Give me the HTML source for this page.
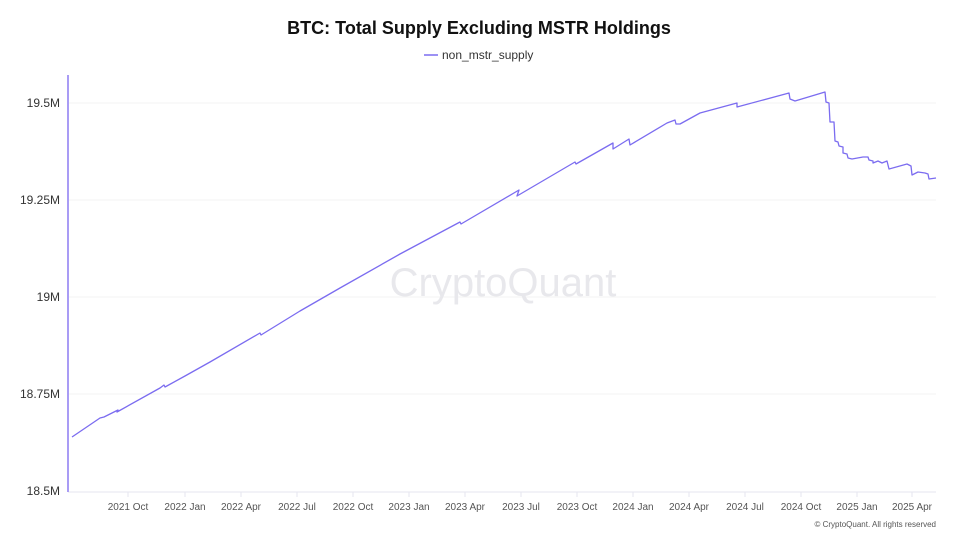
<!DOCTYPE html>
<html><head><style>
body{margin:0;background:#fff;}
svg{display:block;font-family:"Liberation Sans",sans-serif;}
</style></head><body>
<svg width="959" height="536" viewBox="0 0 959 536">
<text x="479" y="34" text-anchor="middle" font-size="18" font-weight="bold" fill="#111">BTC: Total Supply Excluding MSTR Holdings</text>
<line x1="424" y1="55" x2="438" y2="55" stroke="#7b6cf0" stroke-width="1.5"/>
<text x="442" y="59" font-size="12" fill="#333">non_mstr_supply</text>
<g stroke="#f3f3f3" stroke-width="1">
<line x1="68" y1="103" x2="936" y2="103"/><line x1="68" y1="200" x2="936" y2="200"/>
<line x1="68" y1="297" x2="936" y2="297"/><line x1="68" y1="394" x2="936" y2="394"/>
</g>
<line x1="68" y1="492" x2="936" y2="492" stroke="#e6e6ef"/>
<line x1="68" y1="75" x2="68" y2="492" stroke="#a99cf5" stroke-width="2"/>
<g font-size="12" fill="#333" text-anchor="end">
<text x="60" y="107">19.5M</text><text x="60" y="204">19.25M</text><text x="60" y="301">19M</text><text x="60" y="398">18.75M</text><text x="60" y="495">18.5M</text>
</g>
<g font-size="10" fill="#555" text-anchor="middle">
<text x="128" y="510">2021 Oct</text><text x="185" y="510">2022 Jan</text><text x="241" y="510">2022 Apr</text><text x="297" y="510">2022 Jul</text><text x="353" y="510">2022 Oct</text><text x="409" y="510">2023 Jan</text><text x="465" y="510">2023 Apr</text><text x="521" y="510">2023 Jul</text><text x="577" y="510">2023 Oct</text><text x="633" y="510">2024 Jan</text><text x="689" y="510">2024 Apr</text><text x="745" y="510">2024 Jul</text><text x="801" y="510">2024 Oct</text><text x="857" y="510">2025 Jan</text><text x="912" y="510">2025 Apr</text>
</g>
<g stroke="#e6e6ef"><line x1="128" y1="492" x2="128" y2="497"/><line x1="185" y1="492" x2="185" y2="497"/><line x1="241" y1="492" x2="241" y2="497"/><line x1="297" y1="492" x2="297" y2="497"/><line x1="353" y1="492" x2="353" y2="497"/><line x1="409" y1="492" x2="409" y2="497"/><line x1="465" y1="492" x2="465" y2="497"/><line x1="521" y1="492" x2="521" y2="497"/><line x1="577" y1="492" x2="577" y2="497"/><line x1="633" y1="492" x2="633" y2="497"/><line x1="689" y1="492" x2="689" y2="497"/><line x1="745" y1="492" x2="745" y2="497"/><line x1="801" y1="492" x2="801" y2="497"/><line x1="857" y1="492" x2="857" y2="497"/><line x1="912" y1="492" x2="912" y2="497"/></g>
<text x="936" y="527" font-size="8" fill="#555" text-anchor="end">© CryptoQuant. All rights reserved</text>
<text x="503" y="296" font-size="40" fill="#e8e8ec" text-anchor="middle">CryptoQuant</text>
<polyline fill="none" stroke="#7b6cf0" stroke-width="1.3" stroke-linejoin="round" points="72,437 100,418 104,417 118,410 117,412 160,388 164,385 165,387 185,376 210,362 260,333 261,335 300,311 340,288 400,254 460,222 461,224 519,190 517,196 575,162 576,164 613,143 613,149 629,139 630,145 667,123 675,120 676,124 680,124 700,113 737,103 737,107 789,93 790,99 795,101 825,92 826,102 829,103 830,122 834,122 835,141 838,142 839,146 843,147 843,153 847,154 848,158 852,159 863,157 868,157 869,160 873,161 873,163 878,161 882,163 887,161 889,169 907,164 911,166 912,175 918,172 925,173 928,174 929,179 936,178"/>
</svg>
</body></html>
